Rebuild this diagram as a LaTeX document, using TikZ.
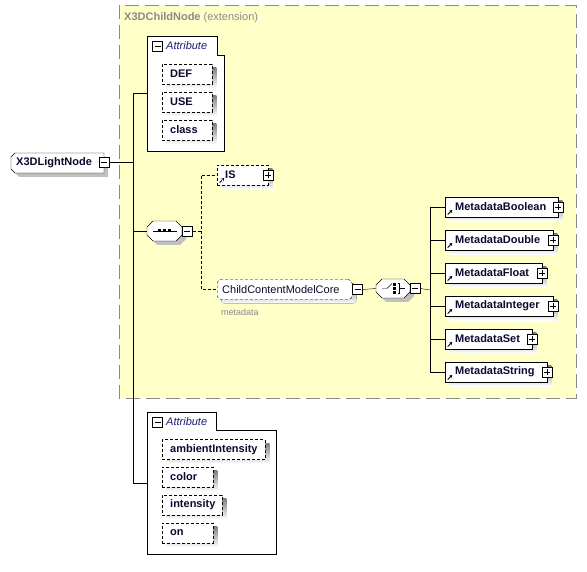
\documentclass[tikz,border=0pt]{standalone}
\usepackage{fontspec}
\setmainfont{Liberation Sans}
\usetikzlibrary{arrows.meta, calc}

\definecolor{extfill}{HTML}{FFFFC8}
\definecolor{extline}{HTML}{8A8A8A}
\definecolor{shade}{HTML}{C0C0C0}
\definecolor{namecol}{HTML}{0A0A2E}
\definecolor{attcol}{HTML}{1C1C70}

\newcommand{\diafont}{\fontsize{11}{13}\selectfont}

\pgfdeclarelayer{back}
\pgfdeclarelayer{shadow}
\pgfsetlayers{back,shadow,main}

\tikzset{
  minusbox/.style={draw, fill=white, rectangle, minimum size=10, inner sep=0,
    path picture={\draw[line width=0.9pt] ([xshift=2pt]path picture bounding box.west) -- ([xshift=-2pt]path picture bounding box.east);}},
  plusbox/.style={minusbox,
    append after command={[line width=0.9pt] ([yshift=-2pt]\tikzlastnode.north) edge ([yshift=2pt]\tikzlastnode.south)}},
  refmark/.style={path picture={\draw[-{Stealth[length=3pt,width=3.5pt]}, line width=0.9pt]
    ([shift={(2.5pt,2.5pt)}]path picture bounding box.south west) -- ++(4.5pt,4.5pt);}},
  elembox/.style={draw, fill=white, rectangle, minimum height=20, inner ysep=0,
    inner xsep=10, text width=#1, align=left, anchor=west, font=\diafont\bfseries, text=namecol},
  metabox/.style={elembox=#1, refmark},
  attrbox/.style={elembox=#1, inner xsep=8, dash pattern=on 3pt off 2pt},
  groupbox/.style={draw, fill=white, rounded corners=4, dash pattern=on 3pt off 2pt,
    minimum height=20, inner ysep=0, inner xsep=5, text width=#1, align=left, anchor=west,
    font=\diafont, text=namecol},
  spot/.style={inner sep=0, minimum width=#1, minimum height=20},
  atttitle/.style={font=\diafont\itshape, text=attcol, inner sep=0, anchor=west},
  extbox/.style={draw=extline, fill=extfill, dash pattern=on 14pt off 6pt},
  shadowfill/.style={fill=shade, xshift=4pt, yshift=-4pt},
}

\begin{document}
\begin{tikzpicture}[x=1pt, y=-1pt, line width=1pt, font=\diafont]
\useasboundingbox (0,0) rectangle (587,572);

% extension area and attribute groups
\begin{pgfonlayer}{back}
  \draw[extbox] (119,5) rectangle (576,398);
  \draw[fill=white] (147,36) -- (217,36) -- (217,55) -- (224,55) -- (224,151) -- (147,151) -- cycle;
  \draw[fill=white] (147,412) -- (216,412) -- (216,430) -- (276,430) -- (276,554) -- (147,554) -- cycle;
\end{pgfonlayer}
\node[text=extline, anchor=west, inner sep=0] (extTitle) at (124,18) {\textbf{X3DChildNode} (extension)};

% attribute group of the base
\node[inner sep=0, minimum width=77, minimum height=115, anchor=north west] (attrA) at (147,36) {};
\node[minusbox] (attrAMinus) at (157.5,46.5) {};
\node[atttitle] (attrATitle) at (166,46) {Attribute};
\node[attrbox=34] (def) at (162,74) {DEF};
\node[attrbox=34] (use) at (162,102) {USE};
\node[attrbox=34] (class) at (162,130) {class};

% the element
\fill[shadowfill] (15,153) -- (104,153) -- (104,173) -- (15,173) -- (11,169) -- (11,157) -- cycle;
\draw[fill=white] (15,153) -- (104,153) -- (104,173) -- (15,173) -- (11,169) -- (11,157) -- cycle;
\node[spot=93, anchor=west, font=\diafont\bfseries, text=namecol, align=left, text width=83] (light) at (11,163) {X3DLightNode};
\node[minusbox] (lightMinus) at (104,162) {};

% sequence
\fill[shadowfill] (153,221) -- (176,221) -- (182,227) -- (182,235) -- (176,241)
  -- (153,241) -- (147,235) -- (147,227) -- cycle;
\draw[fill=white] (153,221) -- (176,221) -- (182,227) -- (182,235) -- (176,241)
  -- (153,241) -- (147,235) -- (147,227) -- cycle;
\node[spot=35] (seq) at (164.5,231) {};
\draw ([xshift=-12pt]seq.center) -- ([xshift=12pt]seq.center);
\foreach \dx in {-5,0,5}
  \fill ([shift={(\dx pt-1.5pt,-1.5pt)}]seq.center) rectangle ++(3pt,3pt);
\node[minusbox, anchor=west] (seqMinus) at (seq.east) {};

\node[elembox=35, inner xsep=8, dash pattern=on 3pt off 2pt, refmark] (is) at (217,175) {IS};
\node[plusbox] (isPlus) at (is.east) {};

\node[groupbox=125] (ccmc) at (217,289.5) {ChildContentModelCore};
\node[minusbox, anchor=west] (ccmcMinus) at (ccmc.east) {};
\node[text=extline, font=\fontsize{9}{10}\selectfont, anchor=west, inner sep=0] (ccmcNote) at (221,312) {metadata};

% choice
\fill[shadowfill] (382,279) -- (404,279) -- (410,285) -- (410,292) -- (404,298)
  -- (382,298) -- (376,292) -- (376,285) -- cycle;
\draw[fill=white] (382,279) -- (404,279) -- (410,285) -- (410,292) -- (404,298)
  -- (382,298) -- (376,292) -- (376,285) -- cycle;
\node[spot=34, minimum height=19] (choice) at (393,288.5) {};
\draw ([xshift=-11pt]choice.center) -- ++(5pt,0) -- ++(5pt,5pt);
\foreach \dy in {-4,0,4}
  \fill ([shift={(0pt,\dy pt-1.5pt)}]choice.center) rectangle ++(3pt,3pt);
\draw ([shift={(4.5pt,5pt)}]choice.center) -- ++(2pt,0) -- ++(0,-10pt) -- ++(-2pt,0);
\draw ([xshift=6.5pt]choice.center) -- ++(5pt,0);
\node[minusbox, anchor=west] (choiceMinus) at (choice.east) {};

\node[metabox=93] (bool) at (445,207) {MetadataBoolean};
\node[metabox=88] (dbl) at (445,240) {MetadataDouble};
\node[metabox=77] (flt) at (445,273) {MetadataFloat};
\node[metabox=88] (int) at (445,306) {MetadataInteger};
\node[metabox=67] (set) at (445,339) {MetadataSet};
\node[metabox=82] (str) at (445,372) {MetadataString};
\foreach \m in {bool,dbl,flt,int,set,str}
  \node[plusbox] (\m Plus) at (\m.east) {};

% attribute group of the element
\node[inner sep=0, minimum width=129, minimum height=142, anchor=north west] (attrB) at (147,412) {};
\node[minusbox] (attrBMinus) at (157.5,422.5) {};
\node[atttitle] (attrBTitle) at (166,422) {Attribute};
\node[attrbox=87] (ambient) at (162,449.5) {ambientIntensity};
\node[attrbox=35] (color) at (162,477) {color};
\node[attrbox=44] (intensity) at (162,505) {intensity};
\node[attrbox=35] (on) at (162,533) {on};

% shadows of the boxes
\begin{pgfonlayer}{shadow}
  \foreach \n in {def,use,class,is,bool,dbl,flt,int,set,str,ambient,color,intensity,on}
    \fill[shade] ([shift={(4pt,-4pt)}]\n.south west) rectangle ([shift={(4pt,-4pt)}]\n.north east);
  \fill[shade, rounded corners=4] ([shift={(4pt,-4pt)}]ccmc.south west) rectangle ([shift={(4pt,-4pt)}]ccmc.north east);
\end{pgfonlayer}

% connectors
\coordinate (trunk) at (133,162);
\coordinate (seqFork) at (201,231);
\coordinate (choiceFork) at (430,290);
\draw (lightMinus.east) -- (trunk);
\foreach \n in {attrA,seq,attrB}
  \draw (trunk) |- (\n.west);
\draw[dash pattern=on 3pt off 2pt] (seqMinus.east) -- (seqFork) |- (is.west);
\draw[dash pattern=on 3pt off 2pt] (seqFork) |- (ccmc.west);
\draw (ccmcMinus.east) -- (choice.west);
\draw (choiceMinus.east) -- (choiceFork);
\foreach \m in {bool,dbl,flt,int,set,str}
  \draw (choiceFork) |- (\m.west);
\end{tikzpicture}
\end{document}
